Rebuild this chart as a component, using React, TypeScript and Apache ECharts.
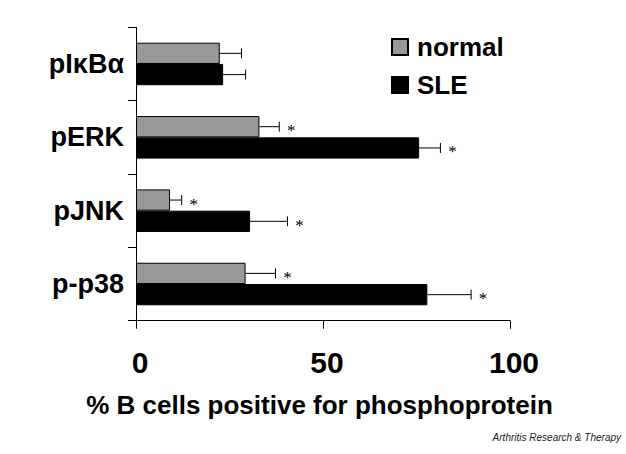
import React, { useEffect, useRef } from "react";
import * as echarts from "echarts";

const categories = ["pIκBα", "pERK", "pJNK", "p-p38"];
const seriesNames = ["normal", "SLE"];
const normalValues = [22.4, 33.0, 9.1, 29.3];
const normalErrors = [5.8, 5.3, 3.1, 8.0];
const normalSignificant = [0, 1, 1, 1];
const sleValues = [23.3, 75.7, 30.5, 77.9];
const sleErrors = [6.0, 5.7, 10.0, 11.7];
const sleSignificant = [0, 1, 1, 1];
const xTicks = [0, 50, 100];

const FONT = "'Liberation Sans', Arial, sans-serif";
const BAR_FRACTION = 0.29;

function errorSeries(values: number[], errors: number[], sig: number[], side: number) {
  return {
    type: "custom",
    silent: true,
    z: 5,
    encode: { x: 0, y: 1 },
    data: values.map((v, i) => [v, i, errors[i], sig[i]]),
    renderItem: (params: any, api: any) => {
      const v = api.value(0);
      const c = api.value(1);
      const e = api.value(2);
      const s = api.value(3);
      const band = api.size([0, 1])[1];
      const bw = band * BAR_FRACTION;
      const p0 = api.coord([v, c]);
      const p1 = api.coord([v + e, c]);
      const cy = p0[1] + side * bw / 2;
      const children: any[] = [
        { type: "line", shape: { x1: p0[0], y1: cy, x2: p1[0], y2: cy }, style: { stroke: "#000", lineWidth: 1 } },
        { type: "line", shape: { x1: p1[0], y1: cy - 5, x2: p1[0], y2: cy + 5 }, style: { stroke: "#000", lineWidth: 1 } },
      ];
      if (s) {
        children.push({
          type: "text",
          x: p1[0] + 12,
          y: cy + 4,
          style: { text: "*", fontSize: 17, fontFamily: "'Liberation Serif', serif", fill: "#000", align: "center", verticalAlign: "middle" },
        });
      }
      return { type: "group", children };
    },
  };
}

export default function App() {
  const ref = useRef<HTMLDivElement>(null);
  useEffect(() => {
    if (!ref.current) return;
    const chart = echarts.init(ref.current, undefined, { renderer: "svg" });
    chart.setOption({
      animation: false,
      backgroundColor: "#fff",
      grid: { left: 136, right: 116, top: 27.3, bottom: 133.3, containLabel: false },
      legend: {
        orient: "vertical",
        left: 386,
        top: 29,
        itemWidth: 16,
        itemHeight: 16,
        itemGap: 12,
        icon: "rect",
        data: seriesNames,
        textStyle: { fontFamily: FONT, fontWeight: "bold", fontSize: 26, color: "#000", lineHeight: 26, padding: [0, 0, 0, 4] },
      },
      xAxis: {
        type: "value",
        min: xTicks[0],
        max: xTicks[xTicks.length - 1],
        interval: 50,
        axisLine: { show: true, lineStyle: { color: "#000", width: 1 } },
        axisTick: { show: true, inside: false, length: 8, lineStyle: { color: "#000" } },
        splitLine: { show: false },
        axisLabel: { margin: 27, fontFamily: FONT, fontWeight: "bold", fontSize: 30, color: "#000", padding: [0, 0, 0, 8] },
        name: "% B cells positive for phosphoprotein",
        nameLocation: "middle",
        nameGap: 71,
        nameTextStyle: { fontFamily: FONT, fontWeight: "bold", fontSize: 26, color: "#000", padding: [0, 7, 0, 0] },
      },
      yAxis: {
        type: "category",
        inverse: true,
        data: categories,
        axisLine: { show: true, lineStyle: { color: "#000", width: 1 } },
        axisTick: { show: true, length: 8, lineStyle: { color: "#000" } },
        axisLabel: { margin: 12, fontFamily: FONT, fontWeight: "bold", fontSize: 27, color: "#000" },
      },
      graphic: [
        {
          type: "text",
          right: 5,
          top: 432,
          style: { text: "Arthritis Research & Therapy", fontFamily: FONT, fontStyle: "italic", fontSize: 10, fill: "#222" },
        },
      ],
      series: [
        {
          name: "normal",
          type: "bar",
          data: normalValues,
          barWidth: "29%",
          barGap: "0%",
          itemStyle: { color: "#999999", borderColor: "#000", borderWidth: 1 },
        },
        {
          name: "SLE",
          type: "bar",
          data: sleValues,
          barWidth: "29%",
          barGap: "0%",
          itemStyle: { color: "#000000", borderColor: "#000", borderWidth: 1 },
        },
        errorSeries(normalValues, normalErrors, normalSignificant, -1),
        errorSeries(sleValues, sleErrors, sleSignificant, 1),
      ],
    });
    return () => chart.dispose();
  }, []);
  return <div ref={ref} style={{ position: "absolute", left: 0, top: 0, width: 626, height: 454 }} />;
}
